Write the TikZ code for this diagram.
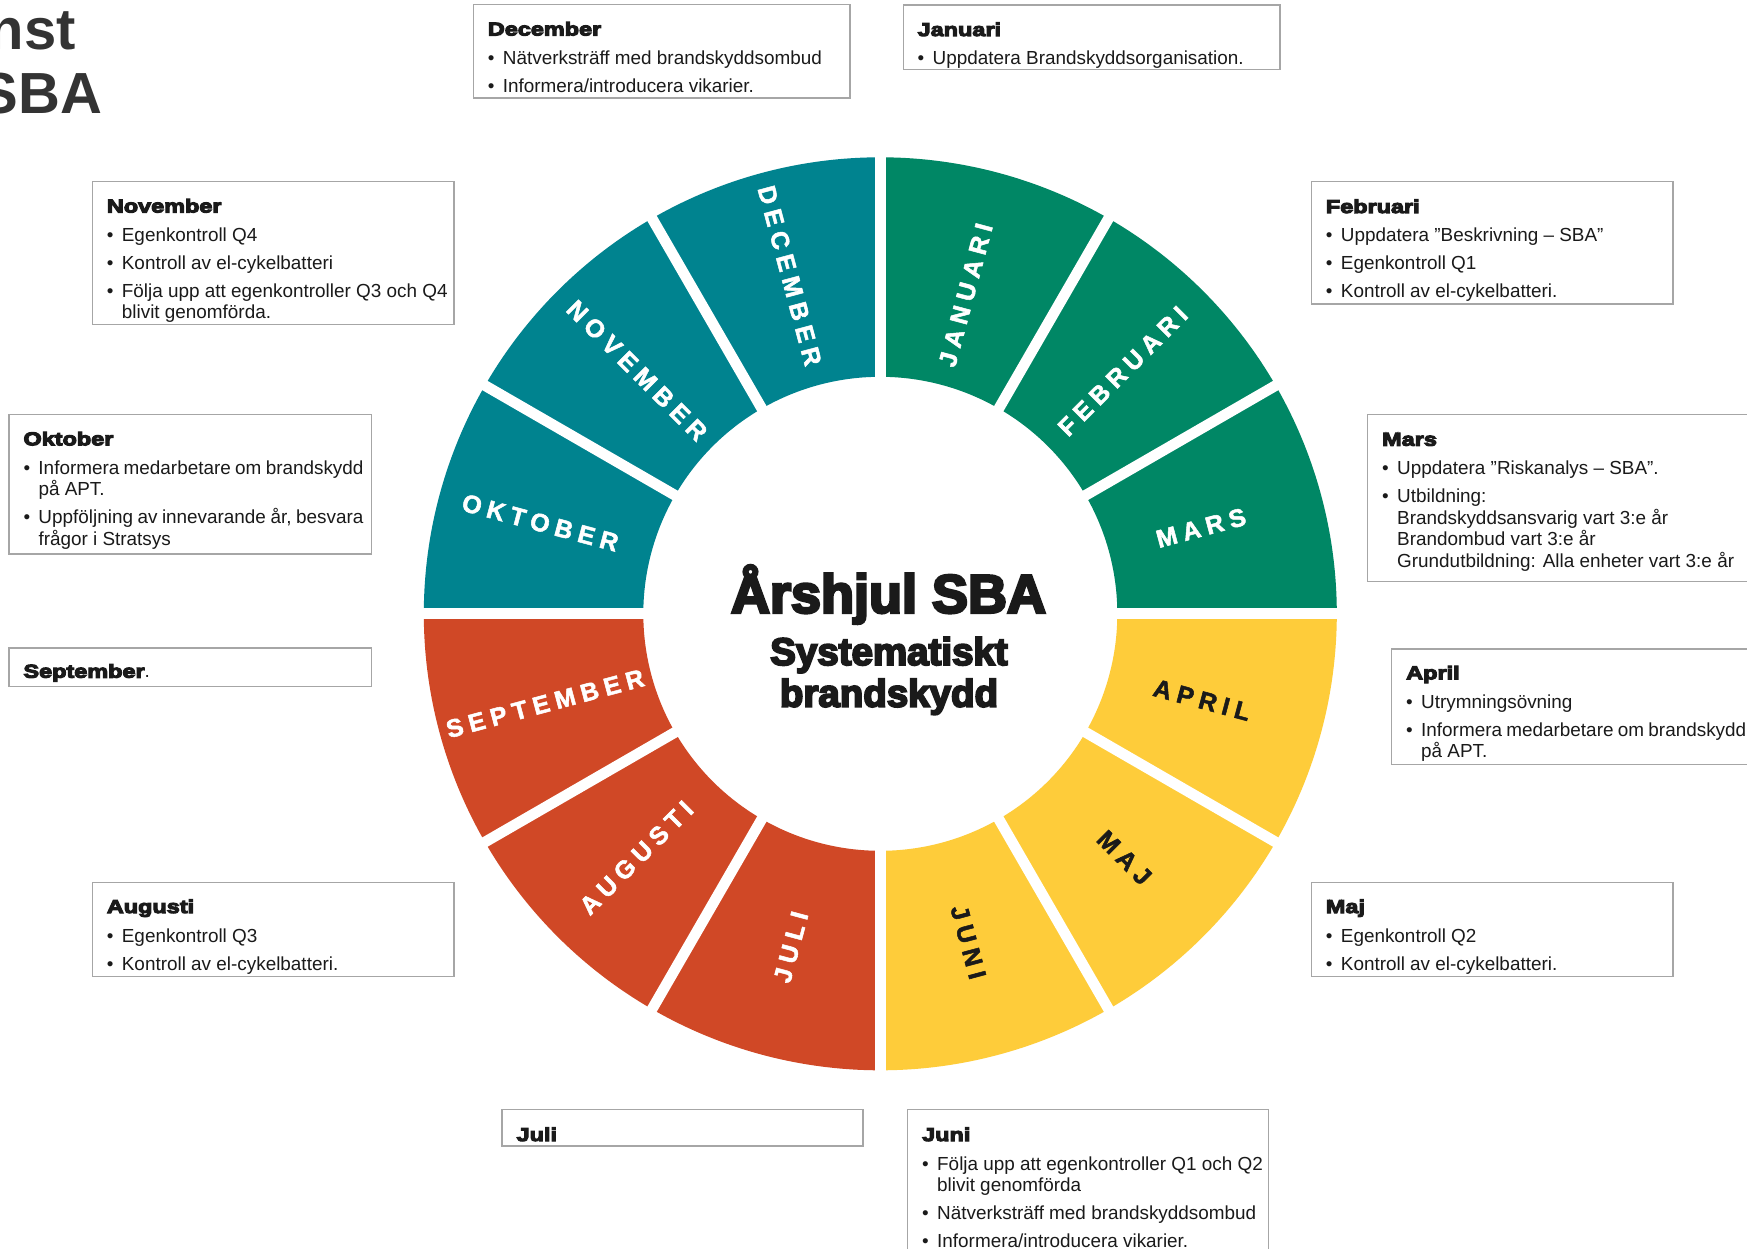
\documentclass[tikz,border=0pt]{standalone}
\usepackage{fontspec}
\setmainfont{Liberation Sans}
\newfontfamily\heavyfont[FakeBold=6,FakeStretch=1.26]{Liberation Sans Bold}
\newfontfamily\ctrfont[FakeBold=5]{Liberation Sans Bold}
\newfontfamily\wheelfont[LetterSpace=24,FakeBold=2]{Liberation Sans Bold}
\newfontfamily\plainbold{Liberation Sans Bold}

\definecolor{cTeal}{RGB}{0,131,143}
\definecolor{cGreen}{RGB}{0,135,101}
\definecolor{cRed}{RGB}{208,72,38}
\definecolor{cYel}{RGB}{254,204,58}
\definecolor{cBorder}{RGB}{166,166,166}
\definecolor{cInk}{RGB}{26,26,26}
\definecolor{cGrey}{RGB}{51,51,51}

\newcommand{\bodysize}{\fontsize{18.9}{21.5}\selectfont}
\newcommand{\btitle}[1]{{\heavyfont\fontsize{18.6}{21.5}\selectfont #1}\par\vspace{1pt}}
\newcommand{\bitem}[1]{\vspace{6.5pt}\hangindent=15pt\hangafter=1\noindent\makebox[15pt][l]{•}#1\par}
\newcommand{\boxtxt}[1]{\parbox[t]{420pt}{\bodysize\raggedright\let\\\newline\parindent=0pt\parskip=0pt #1}}
\newcommand{\jline}[1]{\makebox[325pt][s]{#1}}
\newcommand{\wsector}[3]{\fill[#3] (#1:456.5) arc[start angle=#1, end angle=#2, radius=456.5] -- (#2:237) arc[start angle=#2, end angle=#1, radius=237] -- cycle;}

\tikzset{
  boxframe/.style={draw=cBorder, line width=1.4pt, fill=white, inner sep=0pt, anchor=north west},
  boxtext/.style={anchor=base west, inner sep=0pt, text=cInk},
  wl/.style={font=\wheelfont\fontsize{25}{25}\selectfont, text=white, inner sep=0pt},
  wld/.style={wl, text=cInk},
  ctr/.style={anchor=base, inner sep=0pt, text=cInk},
  corner/.style={anchor=base east, inner sep=0pt, text=cGrey, font=\plainbold\fontsize{58}{58}\selectfont},
}

\begin{document}
\begin{tikzpicture}[x=1pt,y=-1pt]
\useasboundingbox (0,0) rectangle (1747,1249);
\begin{scope}
\clip (0,0) rectangle (1747,1249);
\fill[white] (0,0) rectangle (1747,1249);

% corner title (cut off at left edge)
\node[corner] (cornerA) at (76,50) {nst};
\node[corner] (cornerB) at (102.5,113.3) {SBA};

% ---- wheel ----
\begin{scope}[shift={(880.3,613.8)}, y=1pt]
  \wsector{90}{60}{cGreen}
  \wsector{60}{30}{cGreen}
  \wsector{30}{0}{cGreen}
  \wsector{0}{-30}{cYel}
  \wsector{-30}{-60}{cYel}
  \wsector{-60}{-90}{cYel}
  \wsector{-90}{-120}{cRed}
  \wsector{-120}{-150}{cRed}
  \wsector{-150}{-180}{cRed}
  \wsector{180}{150}{cTeal}
  \wsector{150}{120}{cTeal}
  \wsector{120}{90}{cTeal}
  \foreach \a in {0,30,...,330}
    \draw[white, line width=10.7pt] (0,0) -- (\a:470);
  \node[wl, rotate=75]  (wjan) at (75:330) {JANUARI};
  \node[wl, rotate=45]  (wfeb) at (45:343) {FEBRUARI};
  \node[wl, rotate=15]  (wmar) at (15:332) {MARS};
  \node[wld, rotate=-15] (wapr) at (-15:333) {APRIL};
  \node[wld, rotate=-45] (wmaj) at (-45:345) {MAJ};
  \node[wld, rotate=-75] (wjun) at (-75:340) {JUNI};
  \node[wl, rotate=75]  (wjul) at (-105:345) {JULI};
  \node[wl, rotate=45]  (waug) at (-135:345) {AUGUSTI};
  \node[wl, rotate=15]  (wsep) at (-165:347) {SEPTEMBER};
  \node[wl, rotate=-15] (wokt) at (165:352) {OKTOBER};
  \node[wl, rotate=-45] (wnov) at (135:344) {NOVEMBER};
  \node[wl, rotate=-75] (wdec) at (105:350) {DECEMBER};
\end{scope}

% center title
\node[ctr, font=\ctrfont\fontsize{54}{54}\selectfont] (ctitle) at (888.5,612.7) {Årshjul SBA};
\node[ctr, font=\ctrfont\fontsize{38.5}{38.5}\selectfont] (csub1) at (889,665) {Systematiskt};
\node[ctr, font=\ctrfont\fontsize{38.5}{38.5}\selectfont] (csub2) at (889,706.7) {brandskydd};

% ---- boxes ----
\node[boxframe, minimum width=376.6pt, minimum height=93.3pt] (decbox) at (472.7,4) {};
\node[boxtext] (dectxt) at (487.7,35.5) {\boxtxt{\btitle{December}
  \bitem{Nätverksträff med brandskyddsombud}
  \bitem{Informera/introducera vikarier.}}};

\node[boxframe, minimum width=376.6pt, minimum height=64.5pt] (janbox) at (902.5,4.5) {};
\node[boxtext] (jantxt) at (917.5,36) {\boxtxt{\btitle{Januari}
  \bitem{Uppdatera Brandskyddsorganisation.}}};

\node[boxframe, minimum width=361.6pt, minimum height=143.3pt] (novbox) at (91.7,180.7) {};
\node[boxtext] (novtxt) at (106.7,212.5) {\boxtxt{\btitle{November}
  \bitem{Egenkontroll Q4}
  \bitem{Kontroll av el-cykelbatteri}
  \bitem{Följa upp att egenkontroller Q3 och Q4\\blivit genomförda.}}};

\node[boxframe, minimum width=361.6pt, minimum height=122.6pt] (febbox) at (1310.7,180.7) {};
\node[boxtext] (febtxt) at (1325.7,213) {\boxtxt{\btitle{Februari}
  \bitem{Uppdatera ”Beskrivning – SBA”}
  \bitem{Egenkontroll Q1}
  \bitem{Kontroll av el-cykelbatteri.}}};

\node[boxframe, minimum width=362.4pt, minimum height=139.3pt] (oktbox) at (8.3,414) {};
\node[boxtext] (okttxt) at (23.3,445.3) {\boxtxt{\btitle{Oktober}
  \bitem{\jline{Informera medarbetare om brandskydd}\\på APT.}
  \bitem{\jline{Uppföljning av innevarande år, besvara}\\frågor i Stratsys}}};

\node[boxframe, minimum width=420pt, minimum height=166.7pt] (marbox) at (1366.7,414) {};
\node[boxtext] (martxt) at (1382,445.7) {\boxtxt{\btitle{Mars}
  \bitem{Uppdatera ”Riskanalys – SBA”.}
  \bitem{Utbildning:\\Brandskyddsansvarig vart 3:e år\\Brandombud vart 3:e år\\Grundutbildning: Alla enheter vart 3:e år}}};

\node[boxframe, minimum width=362.4pt, minimum height=38.4pt] (sepbox) at (8.3,647.3) {};
\node[boxtext] (septxt) at (23.3,677.7) {\boxtxt{{\heavyfont\fontsize{18.6}{21.5}\selectfont September}.}};

\node[boxframe, minimum width=420pt, minimum height=115.7pt] (aprbox) at (1390.7,648.3) {};
\node[boxtext] (aprtxt) at (1406,679.3) {\boxtxt{\btitle{April}
  \bitem{Utrymningsövning}
  \bitem{\jline{Informera medarbetare om brandskydd}\\på APT.}}};

\node[boxframe, minimum width=361.6pt, minimum height=94.3pt] (augbox) at (91.7,881.7) {};
\node[boxtext] (augtxt) at (106.7,913) {\boxtxt{\btitle{Augusti}
  \bitem{Egenkontroll Q3}
  \bitem{Kontroll av el-cykelbatteri.}}};

\node[boxframe, minimum width=361.6pt, minimum height=94.3pt] (majbox) at (1310.7,881.7) {};
\node[boxtext] (majtxt) at (1325.7,913) {\boxtxt{\btitle{Maj}
  \bitem{Egenkontroll Q2}
  \bitem{Kontroll av el-cykelbatteri.}}};

\node[boxframe, minimum width=361pt, minimum height=36.8pt] (julbox) at (501.4,1108.6) {};
\node[boxtext] (jultxt) at (516.4,1141) {\boxtxt{\btitle{Juli}}};

\node[boxframe, minimum width=361pt, minimum height=200pt] (junbox) at (907,1108.6) {};
\node[boxtext] (juntxt) at (922,1141) {\boxtxt{\btitle{Juni}
  \bitem{Följa upp att egenkontroller Q1 och Q2\\blivit genomförda}
  \bitem{Nätverksträff med brandskyddsombud}
  \bitem{Informera/introducera vikarier.}}};
\end{scope}
\end{tikzpicture}
\end{document}
